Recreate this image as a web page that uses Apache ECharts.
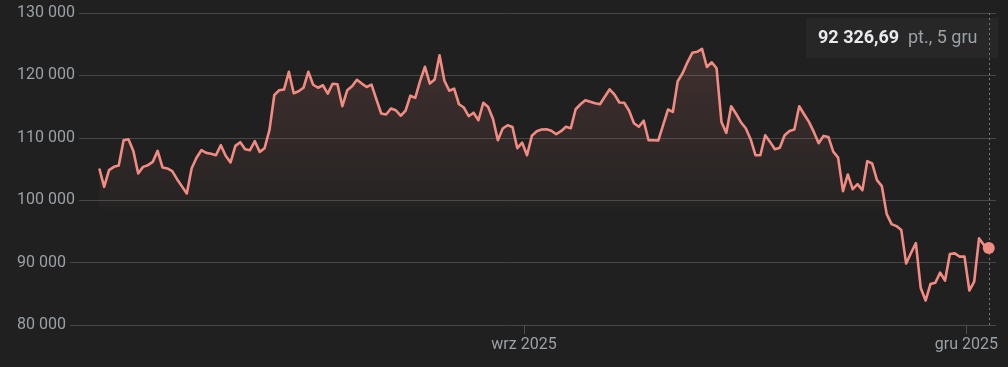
<!DOCTYPE html>
<html><head><meta charset="utf-8">
<script src="https://cdn.jsdelivr.net/npm/echarts@6/dist/echarts.min.js"></script>
<style>html,body{margin:0;padding:0;background:#202020;}#c{width:1008px;height:367px;}</style>
</head><body><div id="c"></div>
<script>
// Daily closes, one per day starting at startDay (15:00 UTC snapshot)
const startDay = [2025, 5, 5]; // 5 June 2025 (month is 0-based)
const values = [
105084,102139,104812,105341,105565,109615,109775,107902,104284,105341,
105613,106141,107902,105245,105084,104652,103372,102219,101083,105130,
106813,108014,107582,107454,107214,108815,107134,106045,108703,109295,
108174,108014,109455,107742,108334,111216,116826,117619,117731,120581,
117139,117459,118019,120581,118499,118019,118419,117091,118659,118579,
115058,117619,118259,119299,118691,118147,118531,116178,113889,113729,
114689,114417,113537,114337,116746,116394,119124,121381,118691,119331,
123221,119139,117539,117891,115377,114849,113457,114017,112816,115618,
114945,113016,109615,111488,112016,111744,108334,109215,107214,110336,
111056,111328,111376,111136,110575,111056,111776,111536,114577,115377,
116018,115778,115538,115377,116578,117779,116930,115650,115618,114337,
112336,111776,112736,109615,109615,109567,112016,114529,114145,119059,
120340,122101,123622,123782,124262,121349,122101,121141,112544,110784,
115058,113857,112496,111536,109775,107214,107214,110415,109343,108174,
108414,110415,111104,111328,115058,113777,112544,110944,109135,110304,
110144,107774,106813,101451,104124,101771,102571,101611,106253,105885,
103212,102251,97769,96168,95848,95208,89845,91526,93127,85923,
83922,86563,86771,88404,87124,91366,91478,90965,90965,85523,
86963,93879,92806,92326.69
];
const yTicks = [80000, 90000, 100000, 110000, 120000, 130000];
const xTickDates = [[2025, 8, 1], [2025, 11, 1]];
const xTickLabels = ['wrz 2025', 'gru 2025'];
const tipValue = '92 326,69';
const tipUnit = 'pt., 5 gru';

const DAY = 86400000;
const t0 = Date.UTC(startDay[0], startDay[1], startDay[2], 15);
const seriesData = values.map((v, i) => [t0 + i * DAY, v]);
const tickTimes = xTickDates.map(d => Date.UTC(d[0], d[1], d[2]));
const sep1 = tickTimes[0];
const last = seriesData[seriesData.length - 1];

function fmtNum(v) { return String(v).replace(/\B(?=(\d{3})+(?!\d))/g, ' '); }

const chart = echarts.init(document.getElementById('c'));
chart.setOption({
  backgroundColor: '#202020',
  animation: false,
  textStyle: { fontFamily: 'Roboto, Arial, sans-serif' },
  grid: { left: 17, right: 12, top: 13, bottom: 42, containLabel: false },
  xAxis: {
    type: 'value',
    min: sep1 - 104.31 * DAY,
    max: sep1 + 97.11 * DAY,
    axisLine: { show: false },
    splitLine: { show: false },
    axisTick: { show: true, customValues: tickTimes, length: 9, lineStyle: { color: '#505050', width: 1 } },
    axisLabel: {
      customValues: tickTimes,
      color: '#9aa0a6', fontSize: 16, margin: 12,
      formatter: function (v) {
        const k = tickTimes.findIndex(t => Math.abs(t - v) < DAY / 2);
        return k >= 0 ? xTickLabels[k] : '';
      }
    }
  },
  yAxis: {
    type: 'value',
    min: yTicks[0], max: yTicks[yTicks.length - 1], interval: 10000,
    axisLine: { show: false }, axisTick: { show: false },
    splitLine: { lineStyle: { color: '#474747', width: 1 } },
    axisLabel: {
      inside: true, margin: 0, align: 'left', verticalAlign: 'middle',
      color: '#9aa0a6', fontSize: 16,
      backgroundColor: '#202020', padding: [3, 4, 3, 0],
      formatter: fmtNum
    }
  },
  series: [{
    type: 'line',
    data: seriesData,
    showSymbol: false,
    lineStyle: { color: '#f28b82', width: 2.6, join: 'round' },
    itemStyle: { color: '#f28b82' },
    areaStyle: {
      color: {
        type: 'linear', global: true, x: 0, y: 13, x2: 0, y2: 212,
        colorStops: [
          { offset: 0, color: 'rgba(242,139,130,0.25)' },
          { offset: 0.62, color: 'rgba(242,139,130,0.12)' },
          { offset: 0.94, color: 'rgba(242,139,130,0.05)' },
          { offset: 1, color: 'rgba(242,139,130,0)' }
        ]
      }
    },
    markLine: {
      silent: true, symbol: 'none', label: { show: false },
      lineStyle: { color: '#7a7a7a', type: [2, 3], width: 1 },
      data: [{ xAxis: last[0] }]
    },
    markPoint: {
      silent: true,
      symbol: 'circle', symbolSize: 12,
      itemStyle: { color: '#f28b82' },
      label: { show: false },
      data: [{ coord: last }]
    }
  }],
  graphic: [{
    type: 'group', right: 10, top: 18, z: 100,
    children: [
      { type: 'rect', shape: { x: 0, y: 0, width: 192, height: 40 }, style: { fill: '#272727' } },
      { type: 'text', x: 12, y: 20, style: { text: tipValue, fill: '#e8eaed', font: 'bold 18px Roboto, Arial, sans-serif', verticalAlign: 'middle' } },
      { type: 'text', x: 102, y: 20, style: { text: tipUnit, fill: '#9aa0a6', font: '18px Roboto, Arial, sans-serif', verticalAlign: 'middle' } }
    ]
  }]
});
</script></body></html>
